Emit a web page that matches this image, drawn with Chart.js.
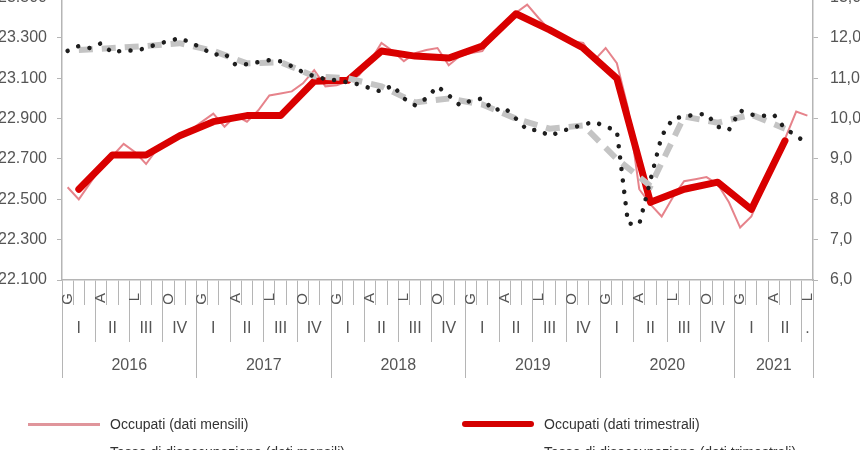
<!DOCTYPE html>
<html>
<head>
<meta charset="utf-8">
<script src="https://cdn.jsdelivr.net/npm/chart.js@4.4.1/dist/chart.umd.min.js"></script>
<style>
  html, body { margin: 0; padding: 0; background: #fff; }
  body { width: 860px; height: 450px; position: relative; overflow: hidden; font-family: 'Liberation Sans', Arial, sans-serif; }
  #wrap { position: absolute; left: 0; top: -24px; width: 860px; height: 474px; }
  .item { position: absolute; display: flex; align-items: center; font-size: 14px; color: #333; white-space: nowrap; line-height: 16px; }
  .sw { display: block; width: 72px; margin-right: 10px; }
</style>
</head>
<body>
<div id="wrap"><canvas id="chart"></canvas></div>

<div class="item" style="left:28px; top:416px"><span class="sw" style="border-top:3px solid #e0959b"></span>Occupati (dati mensili)</div>
<div class="item" style="left:462px; top:416px"><span class="sw" style="border-top:6px solid #d40000; border-radius:3px"></span>Occupati (dati trimestrali)</div>
<div class="item" style="left:28px; top:444px"><span class="sw" style="border-top:4px dotted #222"></span>Tasso di disoccupazione (dati mensili)</div>
<div class="item" style="left:462px; top:444px"><span class="sw" style="border-top:5px dashed #c4c4c4"></span>Tasso di disoccupazione (dati trimestrali)</div>

<script>
// months Jan 2016 .. Jul 2021
const monthLetters = ['G', '', '', 'A', '', '', 'L', '', '', 'O', '', ''];
const quarterNames = ['I', 'II', 'III', 'IV'];
const years = ['2016', '2017', '2018', '2019', '2020', '2021'];

// Occupati, thousands (left scale)
const occMonthly = [
  22560, 22500, 22580, 22660, 22715, 22775, 22735, 22675, 22750, 22795, 22820, 22845,
  22885, 22925, 22860, 22915, 22885, 22940, 23015, 23025, 23035, 23075, 23140, 23060,
  23065, 23085, 23115, 23185, 23275, 23235, 23185, 23225, 23240, 23250, 23165, 23210,
  23225, 23235, 23315, 23365, 23425, 23465, 23400, 23340, 23310, 23285, 23275, 23190,
  23250, 23175, 22950, 22550, 22475, 22415, 22510, 22590, 22600, 22610, 22575, 22485,
  22360, 22415, 22550, 22665, 22800, 22935, 22915
];
const occQuarterly = [
  22550, 22720, 22720, 22815,
  22885, 22915, 22915, 23085,
  23090, 23235, 23210, 23200,
  23260, 23420, 23340, 23250,
  23100, 22485, 22550, 22585,
  22450, 22790
];

// Tasso di disoccupazione, % (right scale)
const unempMonthly = [
  11.68, 11.80, 11.75, 11.87, 11.63, 11.70, 11.68, 11.75, 11.85, 11.92, 12.00, 11.88,
  11.75, 11.58, 11.62, 11.33, 11.35, 11.40, 11.45, 11.42, 11.30, 11.15, 11.05, 10.98,
  10.95, 10.90, 10.85, 10.75, 10.67, 10.83, 10.50, 10.33, 10.50, 10.80, 10.58, 10.33,
  10.45, 10.50, 10.20, 10.27, 10.00, 9.72, 9.72, 9.57, 9.68, 9.77, 9.85, 9.92,
  9.80, 9.70, 7.40, 7.38, 8.48, 9.57, 10.00, 10.05, 10.10, 10.12, 9.80, 9.72,
  10.20, 10.10, 10.07, 10.10, 9.75, 9.58, 9.37
];
const unempQuarterly = [
  11.70, 11.75, 11.80, 11.87,
  11.68, 11.37, 11.40, 11.05,
  11.00, 10.80, 10.40, 10.50,
  10.35, 10.00, 9.75, 9.83,
  9.00, 8.33, 10.05, 9.90,
  10.10, 9.75
];

const nMonths = occMonthly.length;
const monthLabels = occMonthly.map((v, i) => monthLetters[i % 12]);

// quarterly values sit on the middle month of each quarter
function onMiddleMonth(values) {
  const out = new Array(nMonths).fill(null);
  values.forEach((v, q) => { out[q * 3 + 1] = v; });
  return out;
}

// ticks for the group rows: edges get a line, centers get the text
function groupTicks(size, nameOf) {
  const t = [];
  for (let g = 0; g * size < nMonths; g++) {
    const start = g * size, end = Math.min(start + size, nMonths);
    t.push({value: start - 0.5, edge: true, text: ''});
    t.push({value: (start + end - 1) / 2, edge: false, text: nameOf(g, end - start)});
  }
  t.push({value: nMonths - 0.5, edge: true, text: ''});
  return t;
}

const axisGray = '#b5b5b5';
const tickFont = {family: "'Liberation Sans', Arial, sans-serif", size: 16};
const edgeColor = c => (c.tick && c.tick.edge === false) ? 'rgba(0,0,0,0)' : axisGray;

const groupAxis = (weight, height, tickLength, padding, build) => ({
  type: 'linear',
  position: 'bottom',
  weight: weight,
  min: -0.5,
  max: nMonths - 0.5,
  afterBuildTicks: s => { s.ticks = build(); },
  afterFit: s => { s.height = height; },
  border: {display: false},
  grid: {drawOnChartArea: false, tickLength: tickLength, color: edgeColor},
  ticks: {
    autoSkip: false, maxRotation: 0, minRotation: 0, padding: padding,
    color: '#555', font: tickFont,
    callback: (v, i, ticks) => ticks[i].text
  }
});

new Chart(document.getElementById('chart'), {
  type: 'line',
  data: {
    labels: monthLabels,
    datasets: [
      {
        label: 'Tasso di disoccupazione (dati mensili)',
        data: unempMonthly,
        yAxisID: 'y1',
        borderColor: '#1e1e1e',
        borderWidth: 4.5,
        borderDash: [0.01, 11.5],
        borderCapStyle: 'round',
        pointRadius: 0,
        tension: 0,
        order: 0
      },
      {
        label: 'Tasso di disoccupazione (dati trimestrali)',
        data: onMiddleMonth(unempQuarterly),
        yAxisID: 'y1',
        spanGaps: true,
        borderColor: '#c4c4c4',
        borderWidth: 6,
        borderDash: [14, 9],
        pointRadius: 0,
        tension: 0,
        order: 1
      },
      {
        label: 'Occupati (dati trimestrali)',
        data: onMiddleMonth(occQuarterly),
        yAxisID: 'y',
        spanGaps: true,
        borderColor: '#d90000',
        borderWidth: 7,
        borderJoinStyle: 'round',
        borderCapStyle: 'round',
        pointRadius: 0,
        tension: 0,
        order: 2
      },
      {
        label: 'Occupati (dati mensili)',
        data: occMonthly,
        yAxisID: 'y',
        borderColor: 'rgba(222, 90, 100, 0.75)',
        borderWidth: 2,
        pointRadius: 0,
        tension: 0,
        order: 3
      }
    ]
  },
  options: {
    responsive: true,
    maintainAspectRatio: false,
    animation: false,
    layout: {padding: {top: 0, bottom: 72, left: 0, right: 0}},
    plugins: {legend: {display: false}, tooltip: {enabled: false}},
    scales: {
      x: {
        type: 'category',
        position: 'bottom',
        weight: 0,
        offset: true,
        afterFit: s => { s.height = 25; },
        border: {display: true, color: axisGray, width: 1.5},
        grid: {offset: true, drawOnChartArea: false, tickLength: 25, color: axisGray},
        ticks: {
          autoSkip: false, maxRotation: 90, minRotation: 90, padding: -12,
          color: '#555', font: {family: tickFont.family, size: 15}
        }
      },
      xq: groupAxis(1, 37, 37, -22.6, () => groupTicks(3, (g, len) => len < 3 ? '.' : quarterNames[g % 4])),
      xy: groupAxis(2, 36, 36, -21.6, () => groupTicks(12, g => years[g])),
      y: {
        position: 'left',
        min: 22100,
        max: 23500,
        afterFit: s => { s.width = 62; },
        border: {color: axisGray, width: 1.5},
        grid: {drawOnChartArea: false, tickLength: 5, color: axisGray},
        ticks: {
          stepSize: 200, padding: 10, color: '#555', font: tickFont,
          callback: v => Math.floor(v / 1000) + '.' + String(v % 1000).padStart(3, '0')
        }
      },
      y1: {
        position: 'right',
        min: 6,
        max: 13,
        afterFit: s => { s.width = 47; },
        border: {color: axisGray, width: 1.5},
        grid: {drawOnChartArea: false, tickLength: 5, color: axisGray},
        ticks: {
          stepSize: 1, padding: 12, color: '#555', font: tickFont,
          callback: v => v.toFixed(1).replace('.', ',')
        }
      }
    }
  }
});
</script>
</body>
</html>
